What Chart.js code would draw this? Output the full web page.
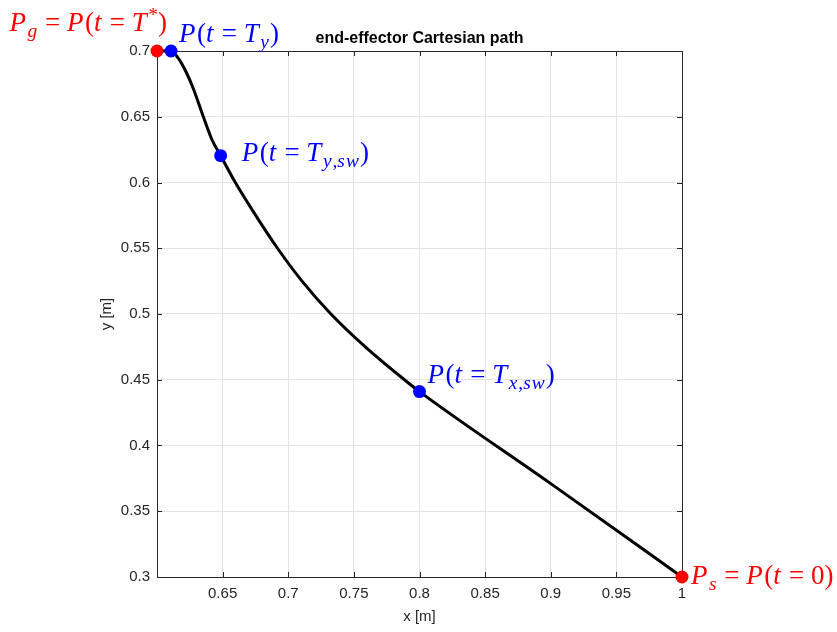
<!DOCTYPE html>
<html>
<head>
<meta charset="utf-8">
<script src="https://cdn.jsdelivr.net/npm/chart.js@4/dist/chart.umd.min.js"></script>
<style>
  html, body { margin: 0; padding: 0; background: #fff; }
  canvas { display: block; }
</style>
</head>
<body>
<canvas id="c" width="837" height="632"></canvas>
<script>
// end-effector path (start at P_s, end at P_g)
const pathX = [1, 0.9, 0.8, 0.7885, 0.7587, 0.7325, 0.7105, 0.6918, 0.6752, 0.6597, 0.6485, 0.6417, 0.6353, 0.6277, 0.6221, 0.6163, 0.6107, 0.6];
const pathY = [0.3, 0.371, 0.441, 0.45, 0.475, 0.5, 0.525, 0.55, 0.575, 0.6, 0.6204, 0.6329, 0.65, 0.6713, 0.6842, 0.6944, 0.7, 0.7];

// marked points
const redX = [0.6, 1];
const redY = [0.7, 0.3];
const blueX = [0.6107, 0.6485, 0.8];
const blueY = [0.7, 0.6204, 0.441];

// labels for the marked points (same order as above)
const redLabels = ['P_g = P(t = T^*)', 'P_s = P(t = 0)'];
const blueLabels = ['P(t = T_y)', 'P(t = T_{y,sw})', 'P(t = T_{x,sw})'];

const xTicks = [0.65, 0.7, 0.75, 0.8, 0.85, 0.9, 0.95, 1];
const yTicks = [0.3, 0.35, 0.4, 0.45, 0.5, 0.55, 0.6, 0.65, 0.7];

const AXIS = '#262626';
const GRID = '#e3e3e3';
const SANS = '"Liberation Sans", Helvetica, Arial, sans-serif';
const SERIF = '"Liberation Serif", "DejaVu Serif", serif';

// tiny math-ish text: _x / _{..} subscripts, ^x superscripts, letters italic
function parseMath(s) {
  const out = [];
  let i = 0;
  while (i < s.length) {
    const c = s[i];
    if (c === '_' || c === '^') {
      const mode = c === '_' ? 'sub' : 'sup';
      i++;
      let grp;
      if (s[i] === '{') {
        const j = s.indexOf('}', i);
        grp = s.slice(i + 1, j);
        i = j + 1;
      } else {
        grp = s[i];
        i++;
      }
      for (const ch of grp) out.push({ ch, mode });
      continue;
    }
    out.push({ ch: c, mode: 'n' });
    i++;
  }
  return out;
}

const isLetter = ch => /[A-Za-z]/.test(ch);

function mathFont(g, size) {
  const sz = g.mode === 'n' ? size : size * 0.72;
  return (isLetter(g.ch) ? 'italic ' : '') + sz + 'px ' + SERIF;
}

function drawMath(ctx, str, x, y, align, color, size) {
  const glyphs = parseMath(str);
  let w = 0;
  glyphs.forEach(g => {
    ctx.font = mathFont(g, size);
    // math italic letters run a little wider than the serif italic
    g.w = ctx.measureText(g.ch).width + (isLetter(g.ch) ? (g.mode === 'n' ? 1.5 : 1) : 0);
    w += g.w;
  });
  let cx = align === 'right' ? x - w : x;
  ctx.fillStyle = color;
  ctx.textBaseline = 'alphabetic';
  ctx.textAlign = 'left';
  glyphs.forEach(g => {
    ctx.font = mathFont(g, size);
    let dy = 0;
    if (g.mode === 'sub') dy = size * 0.24;
    if (g.mode === 'sup') dy = -size * 0.38;
    ctx.fillText(g.ch, cx, y + dy);
    cx += g.w;
  });
}

// offsets of each label from its marker, in pixels
const redLabelPos = [
  { dx: 10, dy: -20, align: 'right' },
  { dx: 9, dy: 7, align: 'left' }
];
const blueLabelPos = [
  { dx: 8, dy: -9, align: 'left' },
  { dx: 21, dy: 5, align: 'left' },
  { dx: 8, dy: -9, align: 'left' }
];

const decorations = {
  id: 'decorations',
  beforeDatasetsDraw(chart) {
    const { ctx, chartArea: a, scales: { x, y } } = chart;
    ctx.save();
    ctx.strokeStyle = AXIS;
    ctx.lineWidth = 1;
    ctx.beginPath();
    // top and right box edges
    ctx.moveTo(a.left, a.top + 0.5);
    ctx.lineTo(a.right + 0.5, a.top + 0.5);
    ctx.lineTo(a.right + 0.5, a.bottom);
    // inward ticks
    const tl = 5;
    xTicks.forEach(v => {
      const px = Math.round(x.getPixelForValue(v)) + 0.5;
      ctx.moveTo(px, a.bottom); ctx.lineTo(px, a.bottom - tl);
      ctx.moveTo(px, a.top); ctx.lineTo(px, a.top + tl);
    });
    yTicks.forEach(v => {
      const py = Math.round(y.getPixelForValue(v)) + 0.5;
      ctx.moveTo(a.left, py); ctx.lineTo(a.left + tl, py);
      ctx.moveTo(a.right, py); ctx.lineTo(a.right - tl, py);
    });
    ctx.stroke();
    ctx.restore();
  },
  afterDraw(chart) {
    const { ctx, chartArea: a, scales: { x, y } } = chart;
    ctx.save();
    // title
    ctx.font = 'bold 16px ' + SANS;
    ctx.fillStyle = '#000';
    ctx.textAlign = 'center';
    ctx.textBaseline = 'alphabetic';
    ctx.fillText('end-effector Cartesian path', (a.left + a.right) / 2, 43);
    // point labels
    redLabels.forEach((t, i) => {
      const p = redLabelPos[i];
      drawMath(ctx, t, x.getPixelForValue(redX[i]) + p.dx, y.getPixelForValue(redY[i]) + p.dy, p.align, '#ff0000', 27);
    });
    blueLabels.forEach((t, i) => {
      const p = blueLabelPos[i];
      drawMath(ctx, t, x.getPixelForValue(blueX[i]) + p.dx, y.getPixelForValue(blueY[i]) + p.dy, p.align, '#0000ff', 27);
    });
    ctx.restore();
  }
};

const tickFont = { family: SANS, size: 15 };

new Chart(document.getElementById('c'), {
  type: 'scatter',
  data: {
    datasets: [
      {
        data: pathX.map((v, i) => ({ x: v, y: pathY[i] })),
        showLine: true,
        borderColor: '#000',
        borderWidth: 3,
        pointRadius: 0,
        cubicInterpolationMode: 'monotone',
        clip: false,
        order: 3
      },
      {
        data: redX.map((v, i) => ({ x: v, y: redY[i] })),
        pointRadius: 6.5,
        backgroundColor: '#ff0000',
        borderWidth: 0,
        clip: false,
        order: 1
      },
      {
        data: blueX.map((v, i) => ({ x: v, y: blueY[i] })),
        pointRadius: 6.5,
        backgroundColor: '#0000ff',
        borderWidth: 0,
        clip: false,
        order: 2
      }
    ]
  },
  options: {
    responsive: false,
    animation: false,
    events: [],
    layout: { padding: { top: 51, right: 155, left: 0, bottom: 0 } },
    plugins: { legend: { display: false }, tooltip: { enabled: false }, title: { display: false } },
    scales: {
      x: {
        type: 'linear',
        min: 0.6,
        max: 1,
        afterBuildTicks: s => { s.ticks = xTicks.map(v => ({ value: v })); },
        afterFit: s => { s.height = 55; },
        grid: { color: GRID, drawTicks: false },
        border: { color: AXIS },
        ticks: { padding: 8, color: AXIS, font: tickFont, autoSkip: false, maxRotation: 0, callback: v => String(v) },
        title: { display: true, text: 'x [m]', color: AXIS, font: { family: SANS, size: 15 }, padding: { top: 0, bottom: 6 } }
      },
      y: {
        type: 'linear',
        min: 0.3,
        max: 0.7,
        afterBuildTicks: s => { s.ticks = yTicks.map(v => ({ value: v })); },
        afterFit: s => { s.width = 157; },
        grid: { color: GRID, drawTicks: false },
        border: { color: AXIS },
        ticks: { padding: 7, color: AXIS, font: tickFont, autoSkip: false, callback: v => String(v) },
        title: { display: true, text: 'y [m]', color: AXIS, font: { family: SANS, size: 15 }, padding: { top: 98, bottom: 0 } }
      }
    }
  },
  plugins: [decorations]
});
</script>
</body>
</html>
